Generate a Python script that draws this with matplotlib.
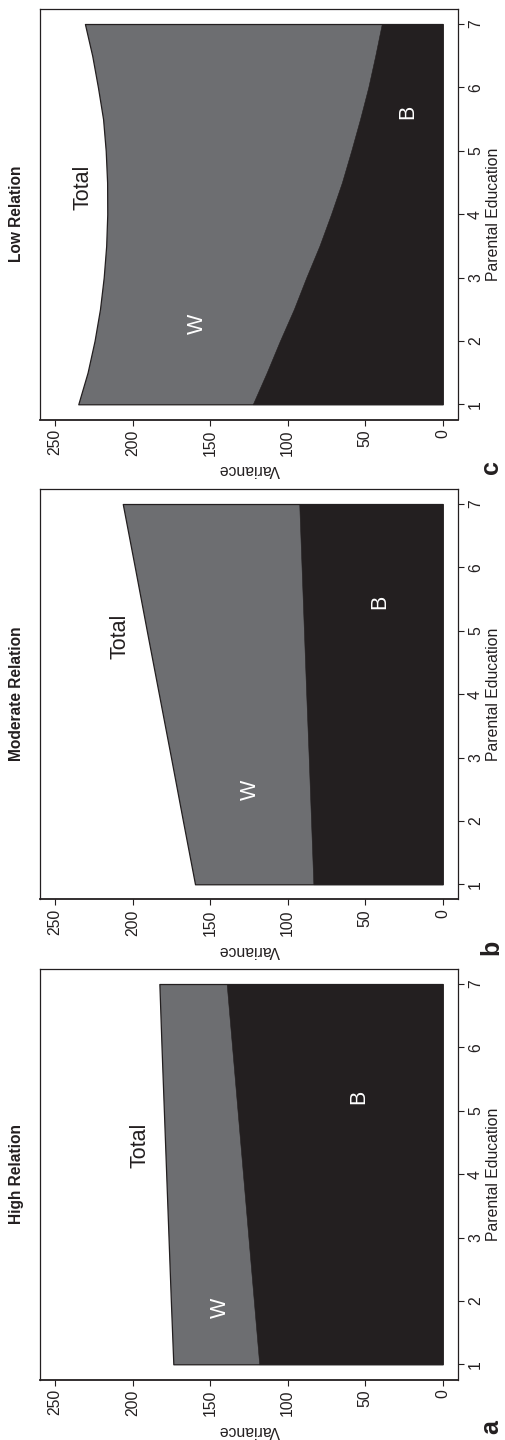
import matplotlib
matplotlib.use('Agg')
import matplotlib.pyplot as plt

plt.rcParams['font.family'] = ['Liberation Sans', 'DejaVu Sans']

# ---------------- data ----------------
pe_low = [1, 1.5, 2, 2.5, 3, 3.5, 4, 4.5, 5, 5.5, 6, 6.5, 7]
total_low = [235.0, 229.0, 224.5, 221.0, 218.6, 217.0, 216.3, 216.4, 217.3, 219.0, 222.3, 226.0, 230.7]
between_low = [122.5, 113.5, 105.0, 96.0, 88.0, 79.5, 72.0, 65.0, 59.0, 53.3, 48.0, 43.5, 39.3]

pe = [1, 2, 3, 4, 5, 6, 7]
total_mod = [159.7, 167.5, 175.2, 183.0, 190.8, 198.5, 206.3]
between_mod = [83.4, 84.9, 86.4, 88.0, 89.5, 91.0, 92.5]

total_high = [173.7, 175.3, 176.8, 178.3, 179.8, 181.3, 182.7]
between_high = [118.3, 121.8, 125.3, 128.8, 132.3, 135.8, 139.3]

titles = ['Low Relation', 'Moderate Relation', 'High Relation']
letters = ['c', 'b', 'a']
variance_ticks = [0, 50, 100, 150, 200, 250]
pe_ticks = [1, 2, 3, 4, 5, 6, 7]

# label anchor points (variance, parental education)
total_pos = [(231.8, 4.42), (208.0, 4.92), (195.2, 4.46)]
w_pos = [(158.0, 2.27), (124.3, 2.49), (143.1, 1.89)]
b_pos = [(22.4, 5.62), (40.4, 5.46), (54.4, 5.22)]

series = [
    (pe_low, total_low, between_low),
    (pe, total_mod, between_mod),
    (pe, total_high, between_high),
]

# ---------------- drawing ----------------
W, H = 505, 1440
fig = plt.figure(figsize=(W / 100, H / 100), dpi=100)
fig.patch.set_facecolor('white')

DARK = '#231f20'
GRAY = '#6d6e71'
FS = 11.3

offsets = [0, 480, 960]
for k, o in enumerate(offsets):
    ax = fig.add_axes([39.5 / W, 1 - (o + 419.5) / H, 418.7 / W, 410.7 / H])
    x, tot, btw = series[k]
    ax.fill_betweenx(x, 0, tot, facecolor=GRAY, edgecolor=DARK, linewidth=0.9, zorder=2)
    ax.fill_betweenx(x, 0, btw, facecolor=DARK, edgecolor=DARK, linewidth=0.4, zorder=3)

    ax.set_xlim(260, -10)
    ax.set_ylim(0.76, 7.24)

    ax.set_xticks(variance_ticks)
    ax.set_xticklabels([str(v) for v in variance_ticks], rotation=90, fontsize=FS)
    ax.yaxis.tick_right()
    ax.set_yticks(pe_ticks)
    ax.set_yticklabels([str(v) for v in pe_ticks], rotation=90, fontsize=FS, va='center')
    ax.tick_params(axis='x', length=4, width=0.8, pad=3, colors=DARK)
    ax.tick_params(axis='y', length=4, width=0.8, pad=3, colors=DARK)
    for s in ax.spines.values():
        s.set_linewidth(0.9)
        s.set_color(DARK)
    ax.spines['bottom'].set_linewidth(1.3)

    tx, ty = total_pos[k]
    ax.text(tx, ty, 'Total', rotation=90, ha='center', va='center', fontsize=15.5, color=DARK, zorder=5)
    wx, wy = w_pos[k]
    ax.text(wx, wy, 'W', rotation=90, ha='center', va='center', fontsize=15.5, color='white', zorder=5)
    bx, by = b_pos[k]
    ax.text(bx, by, 'B', rotation=90, ha='center', va='center', fontsize=15.5, color='white', zorder=5)

    fig.text(16.7 / W, 1 - (o + 214) / H, titles[k], rotation=90, ha='center', va='center',
             fontsize=11.2, fontweight='bold', color=DARK)
    fig.text(249 / W, 1 - (o + 470) / H, 'Variance', rotation=180, ha='center', va='center',
             fontsize=FS, color=DARK)
    fig.text(494 / W, 1 - (o + 214) / H, 'Parental Education', rotation=90, ha='center', va='center',
             fontsize=FS, color=DARK)
    fig.text(491 / W, 1 - (o + 467) / H, letters[k], rotation=90, ha='center', va='center',
             fontsize=18, fontweight='bold', color=DARK)

fig.savefig('out.png', dpi=100, facecolor='white')
